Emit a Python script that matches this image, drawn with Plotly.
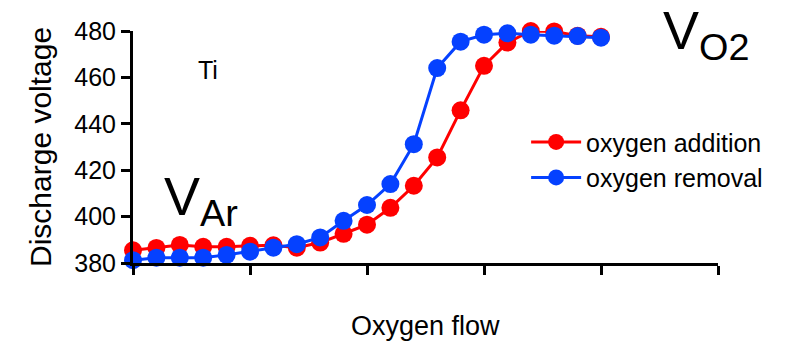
import plotly.graph_objects as go

oxygen_flow = [0.0, 0.2, 0.4, 0.6, 0.8, 1.0, 1.2, 1.4, 1.6, 1.8, 2.0,
               2.2, 2.4, 2.6, 2.8, 3.0, 3.2, 3.4, 3.6, 3.8, 4.0]
v_addition = [385.5, 386.5, 387.8, 387.0, 387.0, 387.4, 387.6, 386.6, 388.8, 392.6, 396.5,
              403.8, 413.3, 425.5, 445.8, 465.0, 475.0, 480.0, 479.8, 478.0, 477.5]
v_removal = [381.2, 382.3, 382.3, 382.3, 383.5, 384.9, 386.6, 388.1, 391.0, 398.2, 405.0,
             414.0, 431.2, 464.0, 475.4, 478.4, 479.0, 478.4, 478.0, 477.8, 477.1]
y_ticks = [380, 400, 420, 440, 460, 480]
x_ticks = [0, 1, 2, 3, 4, 5]

FONT = "Liberation Sans, Arial, Helvetica, sans-serif"
RED = "#FF0000"
BLUE = "#0541FF"

fig = go.Figure()
fig.add_trace(go.Scatter(
    x=oxygen_flow, y=v_addition, name="oxygen addition", mode="lines+markers",
    line=dict(color=RED, width=3), marker=dict(color=RED, size=18),
    cliponaxis=False))
fig.add_trace(go.Scatter(
    x=oxygen_flow, y=v_removal, name="oxygen removal", mode="lines+markers",
    line=dict(color=BLUE, width=3), marker=dict(color=BLUE, size=18),
    cliponaxis=False))

fig.update_layout(
    width=794, height=352,
    margin=dict(l=133, r=76, t=31, b=89),
    paper_bgcolor="white", plot_bgcolor="white",
    font=dict(family=FONT, color="black"),
    showlegend=True,
    legend=dict(x=0.672, xanchor="left", y=0.62, yanchor="top",
                bgcolor="rgba(0,0,0,0)", font=dict(size=25, family=FONT),
                tracegroupgap=0, itemwidth=50),
    xaxis=dict(range=[0, 5], tickvals=x_ticks, showticklabels=False,
               ticks="outside", ticklen=9, tickwidth=3, tickcolor="black",
               showline=True, linewidth=3, linecolor="black",
               showgrid=False, zeroline=False),
    yaxis=dict(range=[380, 480], tickvals=y_ticks,
               ticks="outside", ticklen=9, tickwidth=3, tickcolor="black",
               tickfont=dict(size=25, family=FONT),
               showline=True, linewidth=3, linecolor="black",
               showgrid=False, zeroline=False),
    annotations=[
        dict(text="Oxygen flow", xref="paper", yref="paper", x=0.5, y=-0.27,
             xanchor="center", yanchor="middle", showarrow=False,
             font=dict(size=27, family=FONT)),
        dict(text="Discharge voltage", xref="paper", yref="paper", x=-0.159, y=0.5,
             xanchor="center", yanchor="middle", textangle=-90, showarrow=False,
             font=dict(size=30, family=FONT)),
        dict(text="Ti", xref="paper", yref="paper", x=0.129, y=0.83,
             xanchor="center", yanchor="middle", showarrow=False,
             font=dict(size=25, family=FONT)),
        dict(text="V<sub>Ar</sub>", xref="paper", yref="paper", x=0.05, y=0.27,
             xanchor="left", yanchor="middle", showarrow=False,
             font=dict(size=54, family=FONT)),
        dict(text="V<sub>O2</sub>", xref="paper", yref="paper", x=0.903, y=0.985,
             xanchor="left", yanchor="middle", showarrow=False,
             font=dict(size=54, family=FONT)),
    ],
)

fig.write_html("out.html", config={"displayModeBar": False},
               post_script="document.body.style.margin='0';")
